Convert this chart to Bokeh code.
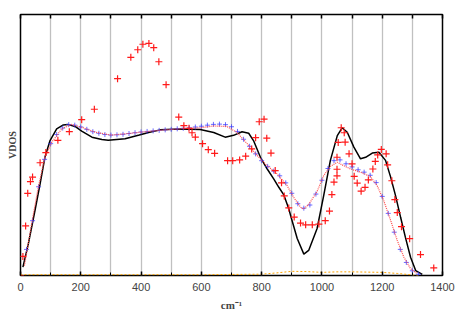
from bokeh.plotting import figure
from bokeh.models import LinearAxis, FixedTicker, Range1d
from bokeh.embed import file_html
from bokeh.resources import INLINE

# ---- data (wavenumber cm^-1, VDOS arbitrary units) ----
exp_x = [0, 8, 17, 24, 33, 40, 65, 84, 124, 162, 203, 245, 322, 366, 389, 406, 426, 442,
         459, 483, 525, 542, 559, 569, 580, 604, 623, 644, 687, 704, 727, 747, 767, 780,
         792, 808, 817, 831, 845, 866, 875, 890, 908, 929, 946, 968, 990, 1011, 1025, 1033,
         1040, 1050, 1050, 1050, 1054, 1064, 1074, 1077, 1090, 1100, 1107, 1117, 1130, 1143,
         1154, 1169, 1177, 1185, 1197, 1213, 1218, 1232, 1242, 1250, 1264, 1291, 1327, 1371]
exp_y = [0.0, 0.073, 0.190, 0.315, 0.360, 0.377, 0.432, 0.471, 0.518, 0.551, 0.597, 0.637,
         0.754, 0.836, 0.865, 0.886, 0.889, 0.873, 0.819, 0.731, 0.607, 0.574, 0.564, 0.547,
         0.530, 0.505, 0.482, 0.468, 0.440, 0.440, 0.443, 0.457, 0.485, 0.528, 0.589, 0.599,
         0.526, 0.469, 0.402, 0.355, 0.305, 0.259, 0.224, 0.201, 0.194, 0.194, 0.197, 0.210,
         0.247, 0.310, 0.358, 0.382, 0.407, 0.453, 0.510, 0.566, 0.547, 0.511, 0.466, 0.428,
         0.380, 0.354, 0.323, 0.338, 0.366, 0.408, 0.437, 0.462, 0.483, 0.466, 0.424, 0.363,
         0.291, 0.241, 0.187, 0.141, 0.080, 0.029]

calc_x = [8, 26, 48, 65, 81, 98, 120, 142, 156, 181, 203, 237, 270, 291, 347, 394, 425, 464,
          530, 596, 641, 679, 707, 735, 757, 773, 796, 818, 840, 857, 873, 890, 897, 918, 940,
          956, 984, 1006, 1028, 1051, 1067, 1084, 1106, 1128, 1145, 1167, 1189, 1211, 1228,
          1244, 1261, 1277, 1294, 1311, 1333]
calc_y = [0.032, 0.121, 0.249, 0.351, 0.453, 0.517, 0.562, 0.577, 0.579, 0.571, 0.553, 0.530,
          0.521, 0.518, 0.524, 0.538, 0.548, 0.558, 0.561, 0.559, 0.548, 0.530, 0.537, 0.551,
          0.545, 0.517, 0.453, 0.409, 0.370, 0.338, 0.310, 0.256, 0.226, 0.142, 0.082, 0.096,
          0.180, 0.307, 0.441, 0.536, 0.566, 0.549, 0.492, 0.447, 0.453, 0.469, 0.472, 0.441,
          0.377, 0.307, 0.223, 0.146, 0.070, 0.019, 0.004]

avg_x = [13, 37, 59, 81, 104, 137, 168, 203, 248, 301, 358, 414, 480, 530, 596, 641, 685,
         718, 752, 785, 818, 851, 884, 906, 929, 939, 956, 984, 1006, 1028, 1051, 1072, 1095,
         1128, 1161, 1183, 1205, 1228, 1250, 1272, 1294, 1316]
avg_y = [0.038, 0.198, 0.338, 0.453, 0.511, 0.562, 0.579, 0.568, 0.549, 0.538, 0.544, 0.551,
         0.558, 0.562, 0.566, 0.573, 0.571, 0.548, 0.505, 0.460, 0.421, 0.390, 0.345, 0.300,
         0.262, 0.255, 0.272, 0.322, 0.383, 0.418, 0.434, 0.421, 0.408, 0.396, 0.379, 0.345,
         0.287, 0.211, 0.134, 0.070, 0.026, 0.007]

run_x = [20, 40, 60, 80, 100, 120, 140, 160, 180, 200, 220, 240, 260, 280, 300, 320, 340,
         360, 380, 400, 420, 440, 460, 480, 500, 520, 540, 560, 580, 600, 620, 640, 660, 680,
         700, 720, 740, 760, 780, 800, 820, 840, 860, 880, 900, 920, 940, 960, 980, 1000,
         1020, 1040, 1060, 1080, 1100, 1120, 1140, 1160, 1180, 1200, 1220, 1240, 1260, 1280,
         1300, 1320]
run_y = [0.10, 0.21, 0.34, 0.445, 0.505, 0.540, 0.565, 0.578, 0.576, 0.569, 0.560, 0.551,
         0.545, 0.540, 0.538, 0.539, 0.541, 0.544, 0.547, 0.550, 0.552, 0.554, 0.556, 0.558,
         0.560, 0.562, 0.564, 0.566, 0.569, 0.572, 0.576, 0.579, 0.580, 0.578, 0.570, 0.552,
         0.522, 0.495, 0.466, 0.440, 0.418, 0.400, 0.382, 0.355, 0.315, 0.275, 0.258, 0.270,
         0.312, 0.365, 0.410, 0.440, 0.443, 0.428, 0.416, 0.405, 0.396, 0.384, 0.356, 0.303,
         0.238, 0.166, 0.100, 0.050, 0.018, 0.005]

err_x = [0, 200, 400, 600, 800, 850, 900, 950, 1000, 1050, 1100, 1150, 1200, 1250, 1300, 1320]
err_y = [0.003, 0.003, 0.003, 0.003, 0.005, 0.010, 0.016, 0.015, 0.012, 0.014, 0.014, 0.013,
         0.012, 0.008, 0.002, 0.0]

x_ticks = [0, 200, 400, 600, 800, 1000, 1200, 1400]
x_minor = [100, 300, 500, 700, 900, 1100, 1300]
x_grid = [100, 200, 300, 400, 500, 600, 700, 800, 900, 1000, 1100, 1200, 1300]

p = figure(frame_width=422, frame_height=261, x_range=Range1d(0, 1400), y_range=Range1d(0, 1),
           output_backend="svg", toolbar_location=None, min_border_left=20, min_border_top=14,
           min_border_right=14, min_border_bottom=0)
p.background_fill_color = "white"
p.border_fill_color = "white"
p.outline_line_color = "black"
p.outline_line_width = 1.5

# grid
p.ygrid.visible = False
p.xgrid.ticker = FixedTicker(ticks=x_grid)
p.xgrid.grid_line_color = "#c0c0c0"
p.xgrid.grid_line_width = 1.3

# x axis (bottom)
xa = p.xaxis[0]
xa.ticker = FixedTicker(ticks=x_ticks, minor_ticks=x_minor)
xa.major_tick_in = 4
xa.major_tick_out = 0
xa.minor_tick_in = 3
xa.minor_tick_out = 0
xa.major_tick_line_width = 1.5
xa.axis_line_color = None
xa.major_label_text_font = "Liberation Sans"
xa.major_label_text_font_size = "11px"
xa.major_label_standoff = 7
xa.axis_label = "cm\u207b\u00b9"
xa.axis_label_text_font = "Liberation Serif"
xa.axis_label_text_font_style = "bold"
xa.axis_label_text_font_size = "11px"
xa.axis_label_standoff = 5

# top axis with ticks only (no labels)
top = LinearAxis(ticker=FixedTicker(ticks=[], minor_ticks=x_ticks + x_minor))
top.minor_tick_in = 4
top.minor_tick_out = 0
top.minor_tick_line_width = 1.5
top.axis_line_color = None
p.add_layout(top, "above")

# y axis: label only
ya = p.yaxis[0]
ya.ticker = FixedTicker(ticks=[])
ya.axis_label = "VDOS"
ya.axis_label_text_font = "Liberation Serif"
ya.axis_label_text_font_style = "bold"
ya.axis_label_text_font_size = "10px"
ya.axis_label_standoff = 3
ya.axis_line_color = None
ya.major_label_standoff = 0

# series
p.line(err_x, err_y, line_color="#ffa500", line_width=1, line_dash="2 2")
p.line(calc_x, calc_y, line_color="black", line_width=1.5)
p.scatter(run_x, run_y, marker="cross", size=5, line_color="#3a3aff", line_alpha=0.75, line_width=1)
p.line(avg_x, avg_y, line_color="#ff4a4a", line_width=1.2, line_dash="1 1")
p.scatter(exp_x, exp_y, marker="cross", size=7, line_color="#ff1a1a", line_width=1.2)

open("out.html", "w").write(file_html(p, INLINE))
